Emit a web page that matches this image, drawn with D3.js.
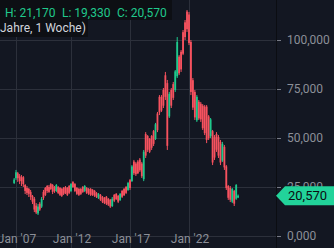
<!DOCTYPE html>
<html>
<head>
<meta charset="utf-8">
<script src="https://cdn.jsdelivr.net/npm/d3@7"></script>
<style>
  html, body { margin: 0; padding: 0; background: #131722; }
  svg { display: block; }
</style>
</head>
<body>
<svg id="chart" width="334" height="248"></svg>
<script>
// bimonthly candles (values in thousands), first bar Nov 2006
const firstBar = "2006-11-01";
const highs = [29.6, 33.7, 32.7, 31.6, 31.1, 30.6, 26.5, 25.5, 24.5, 23.5, 20.9, 19.9, 16.8, 16.3, 17.3, 19.9, 23.5, 25.0, 26.0,
  26.0, 27.0, 26.5, 25.5, 26.5, 25.5, 25.0, 24.5, 25.0, 25.5, 25.0, 26.0,
  27.0, 28.0, 27.0, 25.0, 24.5, 24.5, 25.5, 26.0, 25.0, 24.5, 24.5, 24.0,
  23.5, 22.4, 21.9, 21.4, 20.4, 19.9, 20.4, 19.4, 18.9, 19.9, 21.4, 21.9,
  20.9, 21.9, 23.5, 24.5, 25.5, 27.6, 29.1, 36.2, 38.8, 37.8, 38.8, 39.8,
  37.8, 43.9, 53.0, 51.5, 50.0, 51.5, 54.1, 57.7, 63.3, 71.9, 71.9, 75.5,
  83.7, 79.6, 73.5, 75.5, 78.6, 84.7, 101.5, 92.3, 94.9, 105.1, 110.2, 115.3,
  114.3, 100.0, 80.6, 74.5, 71.9, 69.4, 68.4, 67.3, 66.8, 66.8, 61.7, 60.2,
  54.1, 51.5, 53.0, 51.5, 49.0, 48.0, 46.4, 36.2, 26.0, 25.5, 24.5, 23.5,
  26.5, 21.17];
const lows = [26.5, 28.6, 27.6, 26.5, 25.5, 25.0, 21.4, 20.9, 19.9, 18.4, 16.3, 12.2, 11.2, 10.7, 12.8, 14.3, 18.4, 20.4, 22.0,
  22.0, 23.5, 21.4, 22.0, 22.4, 21.4, 20.4, 19.9, 20.9, 21.4, 20.4, 21.4,
  22.4, 24.5, 22.4, 20.9, 20.4, 20.9, 22.0, 22.4, 21.4, 20.9, 20.4, 20.4,
  19.9, 19.4, 18.9, 17.9, 16.8, 16.3, 15.8, 15.3, 14.3, 14.8, 17.3, 18.4,
  16.8, 17.9, 19.4, 20.4, 21.4, 23.0, 23.5, 27.6, 31.1, 30.6, 31.6, 32.7,
  29.6, 28.0, 39.8, 42.9, 42.3, 43.9, 45.9, 49.0, 53.0, 61.7, 63.3, 65.3,
  69.4, 43.9, 60.2, 65.3, 69.4, 73.5, 80.6, 82.1, 83.7, 92.3, 100.0, 104.1,
  97.4, 71.9, 64.3, 59.2, 58.2, 59.2, 58.2, 54.1, 51.5, 47.4, 49.0, 50.0,
  36.2, 38.8, 42.9, 39.8, 36.2, 37.8, 33.7, 23.5, 18.4, 17.3, 16.8, 15.3,
  18.4, 19.33];
const opens = [27.0, 29.5, 32.0, 30.5, 30.0, 30.0, 26.0, 24.5, 24.0, 22.5, 20.5, 19.0, 15.5, 11.5, 16.5, 15.0, 22.5, 24.5, 25.5,
  25.0, 26.5, 26.0, 25.0, 23.0, 25.0, 24.5, 24.0, 24.5, 25.0, 24.5, 25.5,
  23.0, 27.5, 26.5, 24.5, 24.0, 24.0, 25.0, 23.0, 24.5, 24.0, 24.0, 23.5,
  23.0, 22.0, 19.3, 21.0, 20.0, 19.5, 20.0, 19.0, 18.5, 15.3, 21.0, 21.5,
  20.5, 18.3, 23.0, 24.0, 25.0, 23.5, 28.5, 28.0, 38.0, 37.0, 38.0, 39.0,
  37.0, 29.0, 52.0, 51.0, 49.5, 51.0, 53.5, 49.5, 62.5, 71.0, 71.0, 74.5,
  82.0, 78.0, 61.0, 74.5, 77.5, 74.5, 81.5, 91.5, 94.0, 104.0, 109.0, 114.5,
  113.0, 99.0, 79.5, 73.5, 59.0, 68.5, 67.5, 66.5, 66.0, 66.0, 61.0, 51.0,
  53.5, 50.5, 52.0, 50.5, 48.0, 38.5, 45.5, 35.5, 25.5, 24.5, 17.5, 23.0,
  19.0, 19.6];
const closes = [28.8, 32.5, 29.5, 28.0, 28.0, 26.5, 23.0, 22.0, 21.5, 20.0, 17.5, 13.5, 12.0, 15.0, 13.5, 19.0, 19.5, 21.0, 23.0,
  22.5, 24.0, 22.5, 23.0, 26.0, 22.0, 21.0, 20.5, 21.5, 22.0, 21.0, 22.0,
  26.5, 25.0, 23.0, 21.5, 21.0, 21.5, 22.5, 25.5, 22.0, 21.5, 21.0, 21.0,
  20.5, 19.8, 21.5, 18.5, 17.5, 16.8, 16.5, 16.0, 15.0, 19.0, 18.0, 18.8,
  17.5, 21.5, 20.0, 20.8, 22.0, 27.0, 24.5, 35.5, 32.0, 31.5, 32.0, 33.5,
  30.5, 43.0, 41.0, 44.0, 43.0, 45.0, 47.0, 57.0, 54.0, 63.0, 64.0, 66.5,
  71.0, 46.0, 72.5, 66.5, 70.5, 84.0, 99.0, 83.0, 85.0, 93.0, 101.5, 105.5,
  98.5, 73.5, 65.5, 60.5, 71.0, 60.0, 59.5, 55.0, 52.5, 49.0, 50.0, 59.5,
  37.5, 40.0, 44.0, 41.0, 37.5, 47.0, 35.0, 24.5, 19.5, 18.5, 24.0, 16.5,
  26.0, 20.57];

const yTicks = [0, 25, 50, 75, 100];
const yTickLabels = ["0,000", "25,000", "50,000", "75,000", "100,000"];
const xTicks = ["2007-01-01", "2012-01-01", "2017-01-01", "2022-01-01"];
const xTickLabels = ["Jan '07", "Jan '12", "Jan '17", "Jan '22"];
const legendParts = ["H: 21,170", "L: 19,330", "C: 20,570"];
const intervalText = "Jahre, 1 Woche)";

const width = 334, height = 248;
const plotRight = 276;
const up = "#1fc98d", down = "#f7525f";
const font = "Roboto, 'DejaVu Sans', sans-serif";

const parse = d3.utcParse("%Y-%m-%d");
const start = parse(firstBar);
const data = closes.map((c, i) => ({
  date: d3.utcMonth.offset(start, 2 * i),
  o: opens[i], h: highs[i], l: lows[i], c: c
}));

const svg = d3.select("#chart");

// tradingview spaces the time axis by bar index, so the first years come out a bit narrower
const x = d3.scaleUtc()
  .domain([parse("2007-01-01"), parse("2012-01-01"), parse("2022-01-01")])
  .range([16, 71, 189]);
const y = d3.scaleLinear().domain([0, 100]).range([236, 40]);

svg.append("rect").attr("width", width).attr("height", height).attr("fill", "#131722");

// grid
svg.append("g")
  .selectAll("line")
  .data(yTicks)
  .enter()
  .append("line")
  .attr("x1", 0).attr("x2", plotRight)
  .attr("y1", d => Math.round(y(d)) + 0.5)
  .attr("y2", d => Math.round(y(d)) + 0.5)
  .attr("stroke", "#2c303b");
svg.append("g")
  .selectAll("line")
  .data(xTicks)
  .enter()
  .append("line")
  .attr("x1", d => Math.round(x(parse(d))) + 0.5)
  .attr("x2", d => Math.round(x(parse(d))) + 0.5)
  .attr("y1", 0).attr("y2", height)
  .attr("stroke", "#2c303b");

// candles
const bars = svg.append("g").selectAll("g").data(data).enter().append("g");
bars.append("line")
  .attr("x1", d => x(d.date)).attr("x2", d => x(d.date))
  .attr("y1", d => y(d.h)).attr("y2", d => y(d.l))
  .attr("stroke", d => d.c >= d.o ? up : down)
  .attr("stroke-width", 1);
bars.append("rect")
  .attr("x", d => x(d.date) - 0.9)
  .attr("width", 1.8)
  .attr("y", d => y(Math.max(d.o, d.c)))
  .attr("height", d => Math.max(1, Math.abs(y(d.o) - y(d.c))))
  .attr("fill", d => d.c >= d.o ? up : down);

// price scale on the right
svg.append("line")
  .attr("x1", plotRight + 0.5).attr("x2", plotRight + 0.5)
  .attr("y1", 0).attr("y2", height)
  .attr("stroke", "#0b0d12");
const yAxis = svg.append("g")
  .attr("transform", "translate(" + plotRight + ",0)")
  .call(d3.axisRight(y).tickValues(yTicks).tickSize(5).tickPadding(6)
    .tickFormat((d, i) => yTickLabels[i]));
yAxis.select(".domain").remove();
yAxis.selectAll("line").attr("stroke", "#787b86").attr("x1", 1);
yAxis.selectAll("text")
  .attr("fill", "#8c8f98")
  .style("font-family", font)
  .style("font-size", "12px");

// time labels
svg.append("g")
  .selectAll("text")
  .data(xTicks)
  .enter()
  .append("text")
  .attr("x", d => x(parse(d)) + 1)
  .attr("y", 243)
  .attr("text-anchor", "middle")
  .attr("fill", "#8c8f98")
  .style("font-family", font)
  .style("font-size", "12px")
  .text((d, i) => xTickLabels[i]);

// last price tag
const last = data[data.length - 1];
const ly = y(last.c);
svg.append("path")
  .attr("d", "M" + plotRight + "," + ly + "L" + (plotRight + 9) + "," + (ly - 9.5) +
    "H" + width + "V" + (ly + 9.5) + "H" + (plotRight + 9) + "Z")
  .attr("fill", last.c >= last.o ? "#22d39a" : down);
svg.append("text")
  .attr("x", plotRight + 12)
  .attr("y", ly + 4.5)
  .attr("fill", "#0b0d12")
  .style("font-family", font)
  .style("font-size", "13px")
  .text(d3.format(",")(Math.round(last.c * 1000)));

// legend
svg.append("rect").attr("x", 0).attr("y", 0).attr("width", 172).attr("height", 20).attr("fill", "#0d0f14");
svg.append("rect").attr("x", 0).attr("y", 20).attr("width", 88).attr("height", 17).attr("fill", "#0d0f14");
svg.append("g")
  .selectAll("text")
  .data(legendParts)
  .enter()
  .append("text")
  .attr("x", (d, i) => [5, 62, 117][i])
  .attr("y", 16.5)
  .attr("fill", "#20c98c")
  .style("font-family", font)
  .style("font-size", "12px")
  .text(d => d);
svg.append("text")
  .attr("x", 0)
  .attr("y", 32)
  .attr("fill", "#d1d4dc")
  .style("font-family", font)
  .style("font-size", "12px")
  .text(intervalText);
</script>
</body>
</html>
